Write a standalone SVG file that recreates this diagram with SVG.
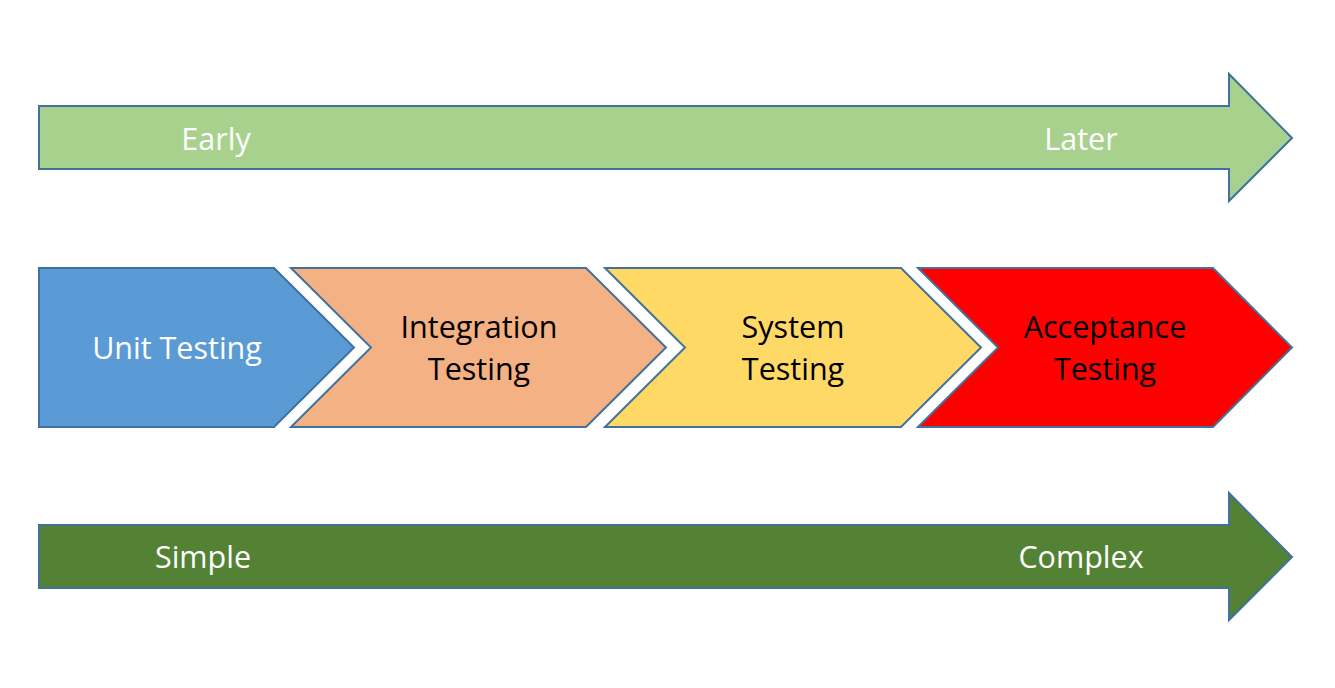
<svg xmlns="http://www.w3.org/2000/svg" width="1335" height="688" viewBox="0 0 1335 688">
<style>
.shape{stroke:#41719C;stroke-width:2;stroke-linejoin:miter}
.lbl{font-family:"Open Sans","Noto Sans",sans-serif;font-size:30.5px;text-anchor:middle}
.w{fill:#FFFFFF}
.k{fill:#000000}
</style>
<rect width="1335" height="688" fill="#FFFFFF"/>
<g id="time-arrow">
<polygon class="shape" fill="#A9D18E" points="39,106 1229,106 1229,74 1292,138 1229,201 1229,169 39,169"/>
<text class="lbl w" x="216" y="150">Early</text>
<text class="lbl w" x="1081" y="150">Later</text>
</g>
<g id="unit-testing">
<polygon class="shape" fill="#5B9BD5" points="39,268 274,268 354,347.5 274,427 39,427"/>
<text class="lbl w" x="177" y="359">Unit Testing</text>
</g>
<g id="integration-testing">
<polygon class="shape" fill="#F4B183" points="291,268 586,268 666,347.5 586,427 291,427 371,347.5"/>
<text class="lbl k" x="479" y="338">Integration</text>
<text class="lbl k" x="479" y="380">Testing</text>
</g>
<g id="system-testing">
<polygon class="shape" fill="#FFD966" points="605,268 901,268 981,347.5 901,427 605,427 685,347.5"/>
<text class="lbl k" x="793" y="338">System</text>
<text class="lbl k" x="793" y="380">Testing</text>
</g>
<g id="acceptance-testing">
<polygon class="shape" fill="#FF0000" points="918,268 1213,268 1292,347.5 1213,427 918,427 998,347.5"/>
<text class="lbl k" x="1105" y="338">Acceptance</text>
<text class="lbl k" x="1105" y="380">Testing</text>
</g>
<g id="complexity-arrow">
<polygon class="shape" fill="#548235" points="39,525 1229,525 1229,493 1292,557 1229,620 1229,588 39,588"/>
<text class="lbl w" x="203" y="568">Simple</text>
<text class="lbl w" x="1081" y="568">Complex</text>
</g>
<g id="connectors"></g>
</svg>
